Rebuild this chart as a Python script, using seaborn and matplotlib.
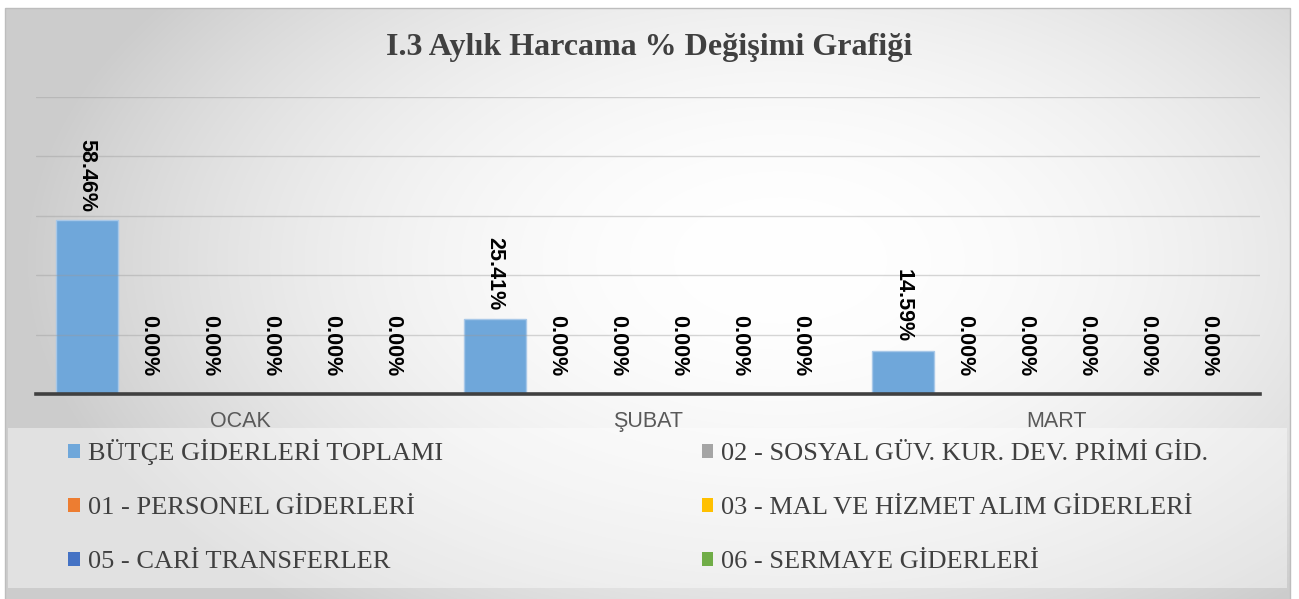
import matplotlib
matplotlib.use('Agg')
import numpy as np
import pandas as pd
import seaborn as sns
from matplotlib import pyplot as plt
from matplotlib.patches import Patch, Rectangle

months = ["OCAK", "ŞUBAT", "MART"]
series = [
    "BÜTÇE GİDERLERİ TOPLAMI",
    "01 - PERSONEL GİDERLERİ",
    "02 - SOSYAL GÜV. KUR. DEV. PRİMİ GİD.",
    "03 - MAL VE HİZMET ALIM GİDERLERİ",
    "05 - CARİ TRANSFERLER",
    "06 - SERMAYE GİDERLERİ",
]
butce = [58.46, 25.41, 14.59]
personel = [0.00, 0.00, 0.00]
sosyal = [0.00, 0.00, 0.00]
mal_hizmet = [0.00, 0.00, 0.00]
cari = [0.00, 0.00, 0.00]
sermaye = [0.00, 0.00, 0.00]
colors = ["#6fa7da", "#ed7d31", "#a5a5a5", "#ffc000", "#4472c4", "#70ad47"]

title = "I.3 Aylık Harcama % Değişimi Grafiği"

rows = []
for name, vals in zip(series, [butce, personel, sosyal, mal_hizmet, cari, sermaye]):
    for m, v in zip(months, vals):
        rows.append({"Ay": m, "Kalem": name, "Degisim": v})
df = pd.DataFrame(rows)

sns.set_style("white")
SERIF = ["Liberation Serif", "DejaVu Serif"]
NARROW = ["Liberation Sans Narrow", "Liberation Sans", "DejaVu Sans"]

W, H = 1299, 599
fig = plt.figure(figsize=(W / 100, H / 100), dpi=100)
fig.patch.set_facecolor("white")

# background gradient of the chart area
bg = fig.add_axes([0, 0, 1, 1], zorder=-5)
yy, xx = np.mgrid[0:H, 0:W]
r = np.sqrt(((xx - 780) / 760.0) ** 2 + ((yy - 260) / 450.0) ** 2)
g = 1 - 0.2 * np.clip(r, 0, 1) ** 2.0
img = np.dstack([g, g, g])
outside = (xx < 5) | (xx > 1290) | (yy < 8)
img[outside] = 1.0
bg.imshow(img, extent=(0, W, H, 0), aspect="auto", interpolation="bilinear")
bg.set_xlim(0, W)
bg.set_ylim(H, 0)
bg.axis("off")
bg.add_patch(Rectangle((5, 7.5), 1285, 592, fill=False, edgecolor="#bdbdbd", lw=1))
# legend panel
bg.add_patch(Rectangle((8, 428), 1279, 160, facecolor="white", alpha=0.42, edgecolor="none"))

ax = fig.add_axes([36 / W, 205 / H, 1224 / W, 297 / H])
ax.set_facecolor("none")
sns.barplot(
    data=df, x="Ay", y="Degisim", hue="Kalem", order=months, hue_order=series,
    palette=colors, saturation=1, width=0.9, gap=0, errorbar=None, legend=False,
    edgecolor="#a8c8e8", linewidth=1, ax=ax,
)

ax.set_ylim(0, 100)
ax.set_yticks([20, 40, 60, 80, 100])
ax.set_yticklabels([])
ax.yaxis.grid(True, color="#9a9a9a", alpha=0.4, lw=1)
ax.set_axisbelow(False)
ax.tick_params(axis="both", length=0)
ax.tick_params(axis="x", pad=12, labelsize=15.5, labelcolor="#595959")
for t in ax.get_xticklabels():
    t.set_family(NARROW)
ax.set_xlabel("")
ax.set_ylabel("")
for s in ["left", "right", "top"]:
    ax.spines[s].set_visible(False)
ax.spines["bottom"].set_color("#404040")
ax.spines["bottom"].set_linewidth(2.6)
ax.spines["bottom"].set_zorder(5)

for i, cont in enumerate(ax.containers):
    vals = [b.get_height() for b in cont]
    ax.bar_label(
        cont, labels=[f"{v:.2f}%" for v in vals], rotation=-90,
        padding=6 if i == 0 else 13, fontsize=15.5, fontweight="bold",
        family=NARROW, color="black",
    )

fig.text(649 / W, 1 - 47 / H, title, ha="center", va="center", fontsize=23,
         fontweight="bold", family=SERIF, color="#404040")

handles = [Patch(facecolor=c, edgecolor="none", label=s) for s, c in zip(series, colors)]
order = [0, 1, 4, 2, 3, 5]
fig.legend(
    [handles[k] for k in order], [series[k] for k in order],
    ncol=2, loc="upper left", bbox_to_anchor=(68 / W, 1 - 439 / H),
    frameon=False, borderpad=0, borderaxespad=0, handlelength=0.45,
    handleheight=0.45, handletextpad=0.3, columnspacing=9.8, labelspacing=1.22,
    prop={"family": SERIF, "size": 19}, labelcolor="#404040",
)

fig.savefig("out.png", dpi=100)
